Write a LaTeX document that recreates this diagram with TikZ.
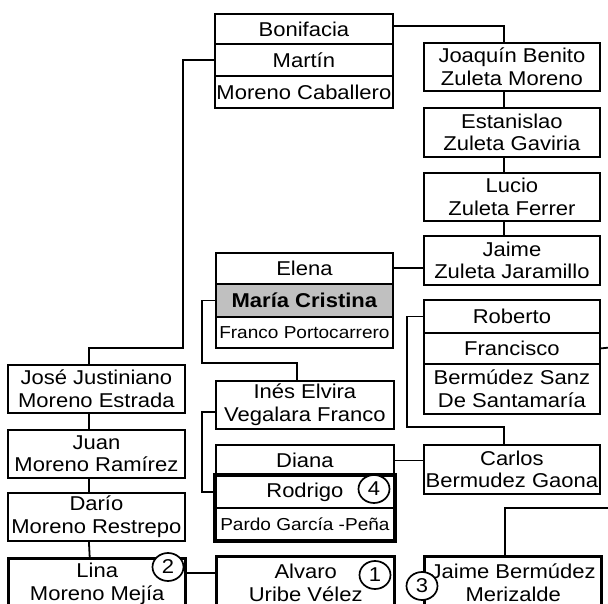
\documentclass[tikz,border=0pt]{standalone}
\usepackage{fontspec}
\setmainfont[FakeStretch=1.1]{Liberation Sans}
\usetikzlibrary{shapes.geometric}
\definecolor{rowgray}{HTML}{C0C0C0}
\begin{document}
\begin{tikzpicture}[x=1pt,y=-1pt,
  row/.style={draw, line width=1.8pt, inner sep=0pt, align=center, anchor=north west,
    minimum width=177pt, font=\fontsize{20}{22.5}\selectfont},
  small/.style={font=\fontsize{17.3}{18}\selectfont},
  thickrow/.style={row, line width=3.4pt},
  conn/.style={line width=1.8pt},
  thickframe/.style={line width=3.4pt},
  oval/.style={draw, ellipse, fill=white, line width=1.7pt, inner sep=0pt,
    minimum width=31pt, minimum height=28pt, font=\fontsize{20}{22}\selectfont}
]
\clip[use as bounding box] (0,0) rectangle (608,604);
\fill[white] (0,0) rectangle (608,604);

% top centre
\node[row, minimum width=178pt, minimum height=30pt] (bon) at (214,13) {Bonifacia};
\node[row, minimum width=178pt, minimum height=32pt] (mar) at (214,43) {Martín};
\node[row, minimum width=178pt, minimum height=32pt] (mcab) at (214,75) {Moreno Caballero};

% right column (Zuleta)
\node[row, minimum width=176pt, minimum height=48pt] (joa) at (423,42) {Joaquín Benito\\Zuleta Moreno};
\node[row, minimum width=176pt, minimum height=49pt] (est) at (423,107) {Estanislao\\Zuleta Gaviria};
\node[row, minimum width=176pt, minimum height=48pt] (luc) at (423,172) {Lucio\\Zuleta Ferrer};
\node[row, minimum width=176pt, minimum height=49pt] (jz) at (423,235) {Jaime\\Zuleta Jaramillo};

% Elena / María Cristina
\node[row, minimum height=31pt] (ele) at (215,252) {Elena};
\node[row, minimum height=33pt, fill=rowgray] (mc) at (215,283) {\bfseries María Cristina};
\node[row, small, minimum height=31pt] (fp) at (215,316) {Franco Portocarrero};

% Roberto / Francisco
\node[row, minimum width=176pt, minimum height=33pt] (rob) at (423,299) {Roberto};
\node[row, minimum width=176pt, minimum height=31pt] (fra) at (423,332) {Francisco};
\node[row, minimum width=176pt, minimum height=50pt] (bsz) at (423,363) {Bermúdez Sanz\\De Santamaría};

% left column (Moreno)
\node[row, minimum height=48pt] (jos) at (7,364) {José Justiniano\\Moreno Estrada};
\node[row, minimum height=48pt] (jua) at (7,429) {Juan\\Moreno Ramírez};
\node[row, minimum height=48pt] (dar) at (7,492) {Darío\\Moreno Restrepo};
\node[thickrow, minimum height=50pt] (lin) at (7,557) {Lina\\Moreno Mejía};

% centre lower
\node[row, minimum width=178pt, minimum height=48pt] (ine) at (215,380) {Inés Elvira\\Vegalara Franco};
\node[row, minimum width=178pt, minimum height=31pt] (dia) at (215,444) {Diana};
\node[row, minimum width=178pt, minimum height=32pt] (rod) at (215,475) {Rodrigo};
\node[row, small, minimum width=178pt, minimum height=32pt] (par) at (215,507) {Pardo García -Peña};
\draw[thickframe] (rod.north west) rectangle (par.south east);
\node[thickrow, minimum width=178pt, minimum height=52pt] (alv) at (215,555) {Alvaro\\Uribe Vélez};

% right lower
\node[row, minimum width=176pt, minimum height=49pt] (car) at (423,444) {Carlos\\Bermudez Gaona};
\node[thickrow, minimum width=177pt, minimum height=52pt] (jb) at (423,555) {Jaime Bermúdez\\Merizalde};

% helper coordinates
\coordinate (m1) at (183,348);
\coordinate (c2) at (202,363);
\coordinate (c3) at (202,450);
\coordinate (c4) at (407,427);
\coordinate (c5) at (610,347.5);
\coordinate (c6) at (610,508);
\coordinate (l2) at ([yshift=11pt]lin.east);
\coordinate (i2) at ([yshift=-7pt]ine.west);

% connectors
\draw[conn] ([yshift=3pt]bon.east) -| ([xshift=-8pt]joa.north);
\draw[conn] ([xshift=-8pt]joa.south) -- ([xshift=-8pt]est.north);
\draw[conn] ([xshift=-8pt]est.south) -- ([xshift=-8pt]luc.north);
\draw[conn] ([xshift=-8pt]luc.south) -- ([xshift=-8pt]jz.north);
\draw[conn] (ele.east) -- (ele.east -| jz.west);
\draw[conn] (mar.west) -| (m1) -| ([xshift=-7.5pt]jos.north);
\draw[conn] ([xshift=-7.5pt]jos.south) -- ([xshift=-7.5pt]jua.north);
\draw[conn] ([xshift=-7.5pt]jua.south) -- ([xshift=-7.5pt]dar.north);
\draw[conn] ([xshift=-7.5pt]dar.south) -- ([xshift=-7.5pt]lin.north);
\draw[conn] (mc.west) -| (c2) -| ([xshift=-8pt]ine.north);
\draw[conn] (i2) -| (c3) |- (rod.west);
\draw[conn] (rob.west) -| (c4) -| ([xshift=-8pt]car.north);
\draw[conn] (fra.east) -- (c5);
\draw[conn] (dia.east) -- (dia.east -| car.west);
\draw[conn] (c6) -| ([xshift=-8pt]jb.north);
\draw[conn] (l2) -- (l2 -| alv.west);

% numbered marks
\node[oval] (n1) at (375,575) {1};
\node[oval] (n2) at (168,567) {2};
\node[oval] (n3) at (422,586) {3};
\node[oval] (n4) at (374,489) {4};
\end{tikzpicture}
\end{document}
